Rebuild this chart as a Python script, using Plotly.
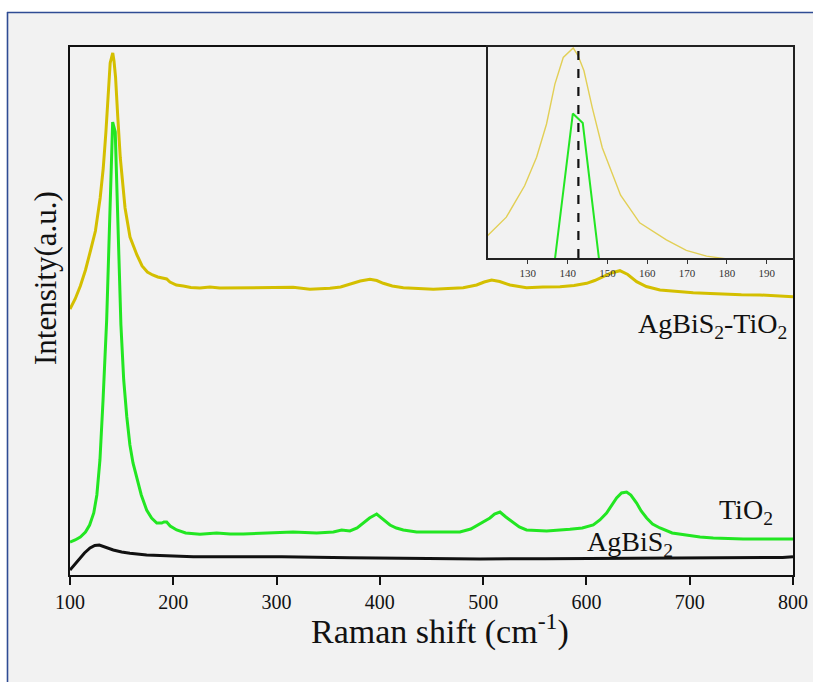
import plotly.graph_objects as go

# ---------------- data (Raman shift in cm-1, intensity in a.u.) ----------------
x_composite = [100, 105, 110, 115, 120, 124.6, 129.2, 132.2, 134.7, 136.8, 138.9, 140.1, 141.4,
               142.6, 144.1, 146.2, 148.7, 153.3, 158.1, 164.8, 169.8, 174.9, 180, 185, 190.3,
               193.6, 196.8, 203, 209.7, 217, 225.8, 235.5, 245, 258, 270, 290.4, 316, 332.3,
               351.7, 362, 371, 381, 390.4, 397, 403.3, 412, 422.7, 437, 451.8, 466, 480.7,
               493.7, 501, 508.2, 516, 526, 542, 558, 574.4, 588, 600.2, 608, 616.3, 624,
               632.4, 640, 648.6, 658, 671.2, 686, 703.4, 720, 735.6, 750, 767.8, 785, 800]
y_composite = [266, 276, 289, 305, 325, 344, 377, 407, 442, 484, 512, 517, 522,
               514, 498, 459, 417, 367, 338, 320, 309, 303, 300, 298, 297,
               296, 293, 290, 289, 287.5, 287, 288, 287, 287, 287.5, 287.3, 287.7, 285.7,
               286.7, 288, 290.7, 294, 295.7, 294.5, 291.7, 289, 287.3, 286.5, 285.7, 286.5, 287.3,
               290, 293, 295, 293.5, 290, 287.3, 288, 288.3, 289.5, 291.7, 294.5, 298.3, 302,
               304.3, 300.5, 293.3, 288.5, 285, 283.5, 282.3, 281.5, 280.7, 280.3, 280, 279.3, 278.3]

x_tio2 = [100, 105, 110, 115, 119, 123, 126, 129, 132, 135.5, 141.3, 143.8, 149.3, 152, 155,
          158, 161, 164.5, 169, 174.2, 179, 184, 188.8, 191, 193.6, 197, 203.3, 212, 225.8,
          242, 255, 267.8, 290.4, 316, 338.8, 355, 363, 371, 378, 383.9, 390, 396.9, 403,
          409.8, 416, 422.7, 435.6, 461.4, 477.5, 488, 496.9, 506.6, 511, 516.3, 522, 529.2,
          535, 542, 561.5, 584, 596, 606.6, 613, 619.5, 625, 629.2, 634, 638.9, 643, 648.6,
          653, 658.3, 664, 671.2, 683, 697, 710, 722.8, 751.8, 800]
y_tio2 = [33, 35, 38, 43, 50, 62, 80, 115, 175, 255, 453, 443, 250, 195, 158,
          130, 112, 98, 80, 65, 57, 52, 52, 53, 53, 49, 45, 42, 40.7,
          42, 41, 41, 42, 43, 42, 43, 45, 44, 47, 52, 57, 61, 56,
          50, 47, 45, 43, 43, 43, 46, 51, 57, 61, 63, 58, 52,
          48, 45, 44, 45.7, 47, 50, 55, 62, 70, 77, 82, 83, 80, 72,
          64, 57, 51, 47, 42, 40, 38, 37, 36, 36]

x_agbis2 = [100, 104, 109.7, 114, 119.4, 124, 128.4, 135, 141.9, 150, 158, 174.2, 196.8, 219.4,
            260, 305, 371, 435.6, 497, 560, 639, 700, 767.8, 790, 800]
y_agbis2 = [5, 10, 17, 22, 27, 29.5, 30, 27.5, 25, 23, 21.7, 20, 19, 18.3,
            18.3, 18.3, 17.3, 16.7, 16, 16.3, 16.7, 16.5, 16.7, 17.5, 18.3]

main_ticks = [100, 200, 300, 400, 500, 600, 700, 800]
inset_ticks = [130, 140, 150, 160, 170, 180, 190]
peak_marker = 142.7          # dashed reference line in the inset
inset_xrange = [120, 196.6]
inset_yrange = [301, 523]

# ---------------- styles ----------------
YELLOW = "#d4bf00"
GREEN = "#22e622"
SERIF = "Liberation Serif"
W, H = 813, 682
L, R, T, B = 70, 20, 47, 107
pw, ph = W - L - R, H - T - B


def px(xp):
    return (xp - L) / pw


def py(yp):
    return (H - B - yp) / ph


fig = go.Figure()
fig.add_trace(go.Scatter(x=x_agbis2, y=y_agbis2, mode="lines", line=dict(color="#111111", width=3),
                         showlegend=False, hoverinfo="skip"))
fig.add_trace(go.Scatter(x=x_tio2, y=y_tio2, mode="lines", line=dict(color=GREEN, width=3),
                         showlegend=False, hoverinfo="skip"))
fig.add_trace(go.Scatter(x=x_composite, y=y_composite, mode="lines", line=dict(color=YELLOW, width=3),
                         showlegend=False, hoverinfo="skip"))

# inset
fig.add_trace(go.Scatter(x=x_composite, y=y_composite, mode="lines", xaxis="x2", yaxis="y2",
                         line=dict(color="#e2cf55", width=1.4), showlegend=False, hoverinfo="skip"))
fig.add_trace(go.Scatter(x=x_tio2, y=y_tio2, mode="lines", xaxis="x2", yaxis="y2",
                         line=dict(color=GREEN, width=2), showlegend=False, hoverinfo="skip"))
fig.add_trace(go.Scatter(x=[peak_marker, peak_marker], y=inset_yrange, mode="lines", xaxis="x2", yaxis="y2",
                         line=dict(color="#111111", width=2.2, dash="dash"), showlegend=False,
                         hoverinfo="skip"))

fig.update_layout(
    width=W, height=H,
    margin=dict(l=L, r=R, t=T, b=B, autoexpand=False),
    paper_bgcolor="#f2f2f2",
    plot_bgcolor="#f2f2f2",
    font=dict(family=SERIF, color="#111111"),
    xaxis=dict(range=[100, 800], tickvals=main_ticks, ticks="outside", ticklen=8, tickwidth=2,
               tickcolor="#111111", showline=True, linewidth=2, linecolor="#111111", mirror=True,
               showgrid=False, zeroline=False, automargin=False,
               tickfont=dict(size=20, family=SERIF, color="#111111")),
    yaxis=dict(range=[0, 528], showticklabels=False, ticks="", showline=True, linewidth=2,
               linecolor="#111111", mirror=True, showgrid=False, zeroline=False, automargin=False),
    xaxis2=dict(domain=[px(488), 1.0], anchor="y2", range=inset_xrange, tickvals=inset_ticks,
                ticks="outside", ticklen=4, tickwidth=1, tickcolor="#333333", showline=True,
                linewidth=1.5, linecolor="#222222", mirror=True, showgrid=False, zeroline=False,
                automargin=False, tickfont=dict(size=11, family=SERIF, color="#333333")),
    yaxis2=dict(domain=[py(258), 1.0], anchor="x2", range=inset_yrange, showticklabels=False,
                ticks="", showline=True, linewidth=1.5, linecolor="#222222", mirror=True,
                showgrid=False, zeroline=False, automargin=False),
)

# outer panel: white margin at top/left with blue frame edge
fig.add_shape(type="rect", xref="paper", yref="paper", x0=px(-5), x1=px(W + 5), y0=py(12), y1=py(-5),
              fillcolor="white", line=dict(width=0), layer="below")
fig.add_shape(type="rect", xref="paper", yref="paper", x0=px(-5), x1=px(7), y0=py(H + 5), y1=py(-5),
              fillcolor="white", line=dict(width=0), layer="below")
fig.add_shape(type="line", xref="paper", yref="paper", x0=px(7), x1=px(W + 5), y0=py(12.5), y1=py(12.5),
              line=dict(color="#2f4c94", width=1.6), layer="below")
fig.add_shape(type="line", xref="paper", yref="paper", x0=px(7.5), x1=px(7.5), y0=py(12), y1=py(H + 5),
              line=dict(color="#2f4c94", width=1.6), layer="below")

# axis titles
fig.add_annotation(xref="paper", yref="paper", x=px(440), y=py(629), showarrow=False,
                   text="Raman shift (cm<sup>-1</sup>)", font=dict(size=34, family=SERIF, color="#111111"),
                   xanchor="center", yanchor="middle")
fig.add_annotation(xref="paper", yref="paper", x=px(45), y=py(278), showarrow=False, textangle=-90,
                   text="Intensity(a.u.)", font=dict(size=31, family=SERIF, color="#111111"),
                   xanchor="center", yanchor="middle")

# series labels
fig.add_annotation(xref="paper", yref="paper", x=px(636), y=py(325), showarrow=False,
                   text="AgBiS<sub>2</sub>-TiO<sub>2</sub>", font=dict(size=28, family=SERIF, color="#111111"),
                   xanchor="left", yanchor="middle")
fig.add_annotation(xref="paper", yref="paper", x=px(717), y=py(511), showarrow=False,
                   text="TiO<sub>2</sub>", font=dict(size=28, family=SERIF, color="#111111"),
                   xanchor="left", yanchor="middle")
fig.add_annotation(xref="paper", yref="paper", x=px(585), y=py(543), showarrow=False,
                   text="AgBiS<sub>2</sub>", font=dict(size=28, family=SERIF, color="#111111"),
                   xanchor="left", yanchor="middle")

fig.write_html("out.html")
